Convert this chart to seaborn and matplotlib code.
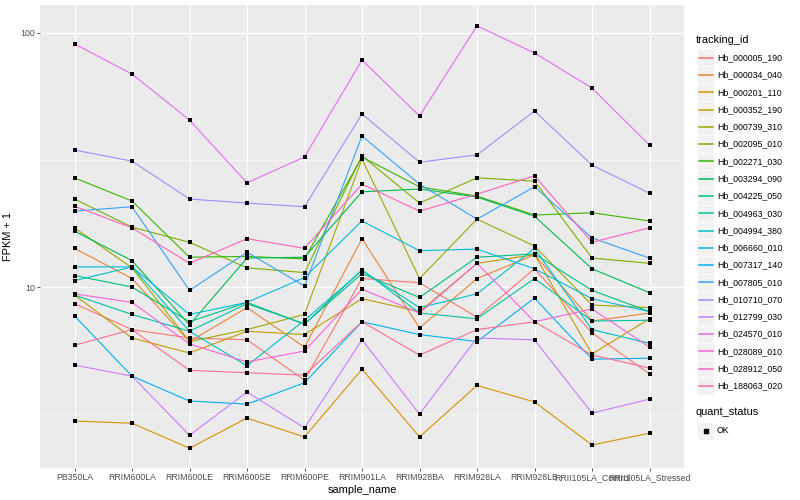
import pandas as pd
import matplotlib
matplotlib.use("Agg")
import matplotlib.pyplot as plt
import seaborn as sns
from matplotlib.lines import Line2D
from matplotlib.patches import Rectangle

# samples (x axis order)
samples = ["PB350LA", "RRIM600LA", "RRIM600LE", "RRIM600SE", "RRIM600PE",
           "RRIM901LA", "RRIM928BA", "RRIM928LA", "RRIM928LB",
           "RRII105LA_Control", "RRII105LA_Stressed"]

# FPKM + 1 per gene
hb_000005_190 = [8.6, 6.8, 6.3, 6.2, 4.3, 10.8, 10.4, 7.6, 11.8, 6.6, 4.55]
hb_000034_040 = [14.2, 10.8, 6.1, 8.3, 5.8, 15.5, 6.9, 10.8, 13.4, 7.35, 7.9]
hb_000201_110 = [2.97, 2.91, 2.32, 3.05, 2.57, 4.75, 2.57, 4.1, 3.53, 2.39, 2.66]
hb_000352_190 = [9.3, 6.3, 5.5, 6.7, 6.5, 9.0, 8.0, 12.4, 13.4, 5.45, 7.5]
hb_000739_310 = [17.1, 11.9, 6.1, 6.8, 7.8, 31.9, 10.8, 18.5, 14.5, 8.5, 8.3]
hb_002095_010 = [22.2, 17.2, 15.0, 11.9, 11.4, 32.8, 21.4, 26.9, 26.1, 13.0, 12.4]
hb_002271_030 = [26.9, 21.8, 13.1, 13.2, 12.9, 32.5, 24.8, 22.8, 19.2, 19.6, 18.2]
hb_003294_090 = [16.6, 12.7, 7.1, 13.0, 13.1, 23.7, 24.3, 22.6, 19.0, 11.8, 9.5]
hb_004225_050 = [11.1, 10.0, 7.3, 8.7, 7.15, 11.3, 9.1, 13.1, 13.5, 9.7, 8.0]
hb_004963_030 = [9.3, 7.8, 6.7, 8.6, 7.15, 11.7, 7.9, 7.5, 10.8, 7.35, 7.4]
hb_004994_380 = [10.6, 12.0, 6.7, 4.9, 7.4, 11.6, 8.3, 9.4, 14.2, 6.8, 6.0]
hb_006660_010 = [12.0, 12.0, 7.8, 8.7, 10.9, 18.2, 13.9, 14.1, 11.8, 9.0, 8.0]
hb_007317_140 = [7.7, 4.46, 3.56, 3.46, 4.2, 7.3, 6.5, 6.1, 9.05, 5.2, 5.25]
hb_007805_010 = [19.9, 20.7, 9.7, 13.7, 10.1, 39.3, 25.4, 18.5, 24.8, 15.6, 13.0]
hb_010710_070 = [34.6, 31.3, 22.2, 21.4, 20.7, 48.0, 31.0, 33.1, 49.3, 30.2, 23.4]
hb_012799_030 = [4.93, 4.46, 2.61, 3.86, 2.79, 6.2, 3.16, 6.3, 6.2, 3.19, 3.62]
hb_024570_010 = [90.5, 68.9, 45.4, 25.7, 32.5, 78.3, 47.1, 106.6, 83.4, 60.7, 36.2]
hb_028089_010 = [9.4, 8.7, 5.97, 5.07, 5.6, 9.8, 7.9, 12.4, 7.3, 8.2, 5.8]
hb_028912_050 = [20.8, 17.1, 12.4, 15.5, 14.2, 25.4, 19.9, 23.2, 27.4, 15.0, 17.1]
hb_188063_020 = [5.9, 6.8, 4.7, 4.6, 4.5, 7.3, 5.4, 6.8, 7.3, 5.4, 4.8]

tracking_ids = ["Hb_000005_190", "Hb_000034_040", "Hb_000201_110", "Hb_000352_190",
                "Hb_000739_310", "Hb_002095_010", "Hb_002271_030", "Hb_003294_090",
                "Hb_004225_050", "Hb_004963_030", "Hb_004994_380", "Hb_006660_010",
                "Hb_007317_140", "Hb_007805_010", "Hb_010710_070", "Hb_012799_030",
                "Hb_024570_010", "Hb_028089_010", "Hb_028912_050", "Hb_188063_020"]
series = [hb_000005_190, hb_000034_040, hb_000201_110, hb_000352_190, hb_000739_310,
          hb_002095_010, hb_002271_030, hb_003294_090, hb_004225_050, hb_004963_030,
          hb_004994_380, hb_006660_010, hb_007317_140, hb_007805_010, hb_010710_070,
          hb_012799_030, hb_024570_010, hb_028089_010, hb_028912_050, hb_188063_020]

# ggplot2 default hue palette for 20 levels
hue_colors = ["#F8766D", "#EA8331", "#D89000", "#C09B00", "#A3A500", "#7CAE00",
              "#39B600", "#00BB4E", "#00BF7D", "#00C1A3", "#00BFC4", "#00BAE0",
              "#00B0F6", "#35A2FF", "#9590FF", "#C77CFF", "#E76BF3", "#FA62DB",
              "#FF62BC", "#FF6C91"]

rows = []
for tid, vals in zip(tracking_ids, series):
    for s, v in zip(samples, vals):
        rows.append({"tracking_id": tid, "sample_name": s, "fpkm1": v, "quant_status": "OK"})
df = pd.DataFrame(rows)

plt.rcParams["font.family"] = ["Liberation Sans", "DejaVu Sans"]

fig = plt.figure(figsize=(8, 5), dpi=100)
ax = fig.add_axes([40 / 800, 32 / 500, 644 / 800, 463 / 500])
ax.set_facecolor("#EBEBEB")

sns.lineplot(data=df, x="sample_name", y="fpkm1", hue="tracking_id",
             hue_order=tracking_ids, palette=dict(zip(tracking_ids, hue_colors)),
             estimator=None, errorbar=None, sort=False, linewidth=0.8,
             legend=False, ax=ax, zorder=3)
sns.scatterplot(data=df, x="sample_name", y="fpkm1", color="black", marker="s",
                s=7, linewidth=0, legend=False, ax=ax, zorder=4)

ax.set_yscale("log")
ax.set_ylim(1.94, 128.8)
ax.set_xlim(-0.6, len(samples) - 0.4)
ax.set_yticks([10, 100])
ax.set_yticklabels(["10", "100"])
ax.set_yticks([3.1623, 31.623], minor=True)
ax.set_yticklabels([], minor=True)

ax.grid(True, which="major", color="white", linewidth=0.8, zorder=0)
ax.grid(True, which="minor", axis="y", color="white", linewidth=0.4, zorder=0)
ax.set_axisbelow(True)
for sp in ax.spines.values():
    sp.set_visible(False)
ax.tick_params(which="major", length=2.2, width=0.6, color="#333333",
               labelsize=6.3, labelcolor="#4D4D4D", pad=1.5)
ax.tick_params(which="minor", length=0)

ax.set_xlabel("sample_name", fontsize=7.9, labelpad=2)
ax.set_ylabel("FPKM + 1", fontsize=7.9, labelpad=5)

# legend, drawn in ggplot style
def px(x, y):
    return x / 800, 1 - y / 500

fig.text(*px(696, 40), "tracking_id", fontsize=7.9, va="center", ha="left")
key_h = 17.28
y0 = 57.7
for i, (tid, col) in enumerate(zip(tracking_ids, hue_colors)):
    yc = y0 + i * key_h
    fig.add_artist(Rectangle(px(697, yc + key_h / 2), 17 / 800, key_h / 500,
                             facecolor="#F2F2F2", edgecolor="white", linewidth=0.6,
                             transform=fig.transFigure, zorder=1))
    fig.add_artist(Line2D([698.5 / 800, 712.5 / 800], [1 - yc / 500] * 2,
                          color=col, linewidth=1.1, transform=fig.transFigure, zorder=2))
    fig.text(*px(717, yc), tid, fontsize=6.3, va="center", ha="left")

yq = y0 + 19 * key_h + key_h / 2 + 11
fig.text(*px(696, yq + 6), "quant_status", fontsize=7.9, va="center", ha="left")
yk = yq + 16.6 + key_h / 2
fig.add_artist(Rectangle(px(697, yk + key_h / 2), 17 / 800, key_h / 500,
                         facecolor="#F2F2F2", edgecolor="white", linewidth=0.6,
                         transform=fig.transFigure, zorder=1))
fig.add_artist(Line2D([705.5 / 800], [1 - yk / 500], marker="s", markersize=2.6,
                      color="black", linestyle="none", transform=fig.transFigure, zorder=2))
fig.text(*px(717, yk), "OK", fontsize=6.3, va="center", ha="left")

fig.savefig("out.png", dpi=100)
